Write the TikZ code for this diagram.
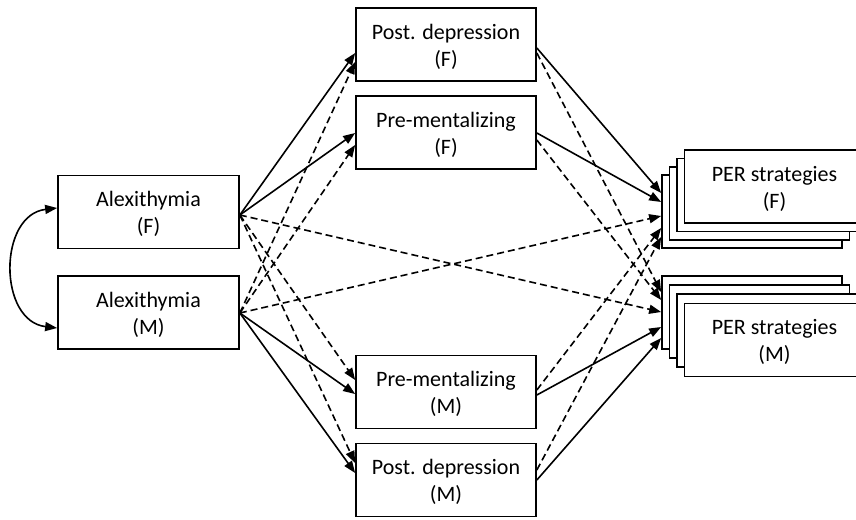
\documentclass[tikz,border=0pt]{standalone}
\usepackage{fontspec}
\setmainfont{Carlito}
\usetikzlibrary{arrows.meta,calc}
\newcommand\lowtxt[2]{\raisebox{-3pt}[\height][\depth]{\begin{tabular}{@{}c@{}}#1\\#2\end{tabular}}}
\begin{document}
\begin{tikzpicture}[x=1pt,y=-1pt,
  box/.style={draw, line width=1.7pt, fill=white, minimum width=180pt, minimum height=73pt,
    inner sep=0pt, align=center, font=\fontsize{22}{27}\selectfont},
  solidarrow/.style={line width=1.6pt, -{Triangle[length=12pt,width=9pt]}},
  dasharrow/.style={solidarrow, dash pattern=on 7pt off 4pt},
  bothtips/.style={line width=1.6pt, {Triangle[length=12pt,width=9pt]}-{Triangle[length=12pt,width=9pt]}},
]
\useasboundingbox (0,0) rectangle (856,519);

% left
\node[box, minimum width=181pt] (alexF) at (148.5,212) {\lowtxt{Alexithymia}{(F)}};
\node[box, minimum width=181pt] (alexM) at (148.5,312.5) {\lowtxt{Alexithymia}{(M)}};
% middle
\node[box] (pdF) at (446,44.5) {\lowtxt{Post. depression}{(F)}};
\node[box] (pmF) at (446,132.5) {\lowtxt{Pre-mentalizing}{(F)}};
\node[box] (pmM) at (446,392) {\lowtxt{Pre-mentalizing}{(M)}};
\node[box] (pdM) at (446,480) {\lowtxt{Post. depression}{(M)}};
% right stacks
\node[box] (perF1) at (752,211.5) {};
\node[box] (perF2) at (759.5,203.2) {};
\node[box] (perF3) at (767,194.9) {};
\node[box] (perF4) at (774.5,186.6) {\lowtxt{PER strategies}{(F)}};
\node[box] (perM1) at (752,312.5) {};
\node[box] (perM2) at (759.5,321.6) {};
\node[box] (perM3) at (767,330.8) {};
\node[box] (perM4) at (774.5,340) {\lowtxt{PER strategies}{(M)}};

% correlation
\coordinate (cF) at ($(alexF.west)+(0,-4)$);
\coordinate (cM) at ($(alexM.west)+(0,15.5)$);
\draw[bothtips] (cF) .. controls (-2,215) and (-2,321) .. (cM);

% sources on alexithymia
\coordinate (aFo) at ($(alexF.east)+(0,3)$);
\coordinate (aMo) at ($(alexM.east)+(0,0.5)$);

% alexithymia -> mediators
\draw[solidarrow] (aFo) -- ($(pdF.west)+(0,8.5)$);
\draw[dasharrow]  (aMo) -- ($(pdF.west)+(0,17.5)$);
\draw[solidarrow] (aFo) -- ($(pmF.west)+(0,0.5)$);
\draw[dasharrow]  (aMo) -- ($(pmF.west)+(0,12.5)$);
\draw[dasharrow]  (aFo) -- ($(pmM.west)+(0,-12)$);
\draw[solidarrow] (aMo) -- ($(pmM.west)+(0,2)$);
\draw[dasharrow]  (aFo) -- ($(pdM.west)+(0,-17)$);
\draw[solidarrow] (aMo) -- ($(pdM.west)+(0,-7)$);

% alexithymia -> PER (cross)
\draw[dasharrow] (aFo) -- ($(perM1.west)+(0,-0.5)$);
\draw[dasharrow] (aMo) -- ($(perF1.west)+(0,4.5)$);

% mediators -> PER F
\draw[solidarrow] ($(pdF.east)+(0,3.5)$) -- ($(perF1.west)+(0,-18.5)$);
\draw[solidarrow] ($(pmF.east)+(0,0.5)$) -- ($(perF1.west)+(0,-9.5)$);
\draw[dasharrow]  ($(pmM.east)+(0,-2)$) -- ($(perF1.west)+(0,16.5)$);
\draw[dasharrow]  ($(pdM.east)+(0,-10)$) -- ($(perF1.west)+(0,25.5)$);

% mediators -> PER M
\draw[dasharrow]  ($(pdF.east)+(0,8.5)$) -- ($(perM1.west)+(0,-20.5)$);
\draw[dasharrow]  ($(pmF.east)+(0,7.5)$) -- ($(perM1.west)+(0,-12.5)$);
\draw[solidarrow] ($(pmM.east)+(0,3)$) -- ($(perM1.west)+(0,14.5)$);
\draw[solidarrow] ($(pdM.east)+(0,0)$) -- ($(perM1.west)+(0,25.5)$);
\end{tikzpicture}
\end{document}
